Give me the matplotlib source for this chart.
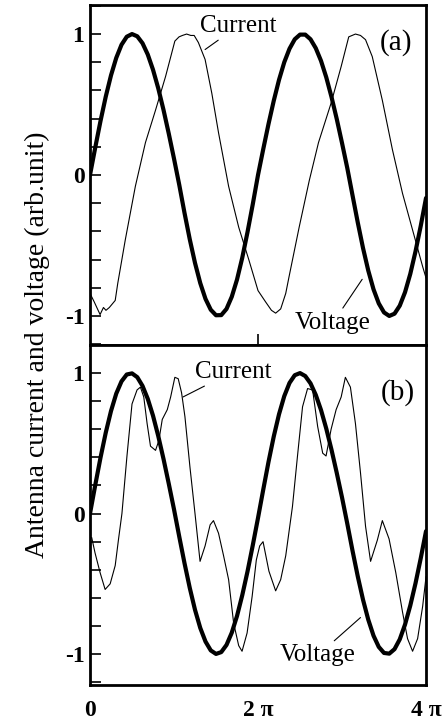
import numpy as np
import matplotlib.pyplot as plt
from matplotlib.ticker import FixedLocator, MultipleLocator

plt.rcParams['font.family'] = ['Liberation Serif', 'DejaVu Serif']
plt.rcParams['axes.unicode_minus'] = False

# phase values are in units of pi, read every pi/16
phase_v = [i / 16 for i in range(65)]

# (a) voltage
volt_a = [0.0, 0.195, 0.383, 0.556, 0.707, 0.831, 0.924, 0.981,
          1.0, 0.984, 0.935, 0.855, 0.747, 0.615, 0.462, 0.294,
          0.116, -0.07, -0.269, -0.456, -0.624, -0.767, -0.879, -0.956,
          -0.995, -0.994, -0.95, -0.864, -0.742, -0.587, -0.405, -0.208,
          0.0, 0.184, 0.362, 0.527, 0.675, 0.80, 0.896, 0.963,
          0.996, 0.996, 0.963, 0.90, 0.81, 0.693, 0.553, 0.397,
          0.227, 0.05, -0.144, -0.337, -0.518, -0.678, -0.811, -0.911,
          -0.975, -1.0, -0.984, -0.927, -0.832, -0.702, -0.542, -0.36,
          -0.163]

# (b) voltage
volt_b = [0.0, 0.203, 0.398, 0.576, 0.730, 0.854, 0.941, 0.990,
          0.998, 0.971, 0.909, 0.817, 0.697, 0.552, 0.389, 0.213,
          0.03, -0.164, -0.353, -0.529, -0.685, -0.814, -0.911, -0.974,
          -0.999, -0.986, -0.935, -0.848, -0.729, -0.581, -0.412, -0.226,
          -0.031, 0.171, 0.368, 0.549, 0.707, 0.836, 0.930, 0.985,
          1.0, 0.979, 0.927, 0.845, 0.737, 0.605, 0.454, 0.289,
          0.115, -0.071, -0.264, -0.447, -0.613, -0.755, -0.869, -0.949,
          -0.992, -0.997, -0.965, -0.895, -0.790, -0.655, -0.496, -0.317,
          -0.125]

# (a) current
phase_ia = [0.0, 0.05, 0.12, 0.16, 0.19, 0.23, 0.30, 0.33, 0.42, 0.54, 0.66, 0.78,
            0.90, 1.01, 1.06, 1.10, 1.15, 1.20, 1.24, 1.29, 1.37, 1.45, 1.53, 1.65,
            1.77, 1.89, 2.0, 2.09, 2.16, 2.21, 2.27, 2.33, 2.37, 2.49, 2.61, 2.72,
            2.87, 2.99, 3.08, 3.16, 3.22, 3.28, 3.36, 3.48, 3.60, 3.72, 3.84, 3.96, 4.0]
curr_a = [-0.84, -0.90, -0.99, -0.94, -0.96, -0.94, -0.89, -0.77, -0.46, -0.08, 0.23, 0.46,
          0.70, 0.95, 0.98, 0.99, 1.0, 0.99, 0.99, 0.94, 0.82, 0.58, 0.30, -0.08,
          -0.37, -0.60, -0.82, -0.90, -0.96, -0.98, -0.95, -0.84, -0.72, -0.37, -0.04, 0.23,
          0.51, 0.77, 0.98, 1.0, 0.99, 0.96, 0.84, 0.53, 0.18, -0.13, -0.39, -0.65, -0.73]

# (b) current
phase_ib = [0.0, 0.02, 0.06, 0.12, 0.18, 0.24, 0.30, 0.34, 0.38, 0.44, 0.50, 0.56,
            0.60, 0.64, 0.68, 0.72, 0.78, 0.82, 0.86, 0.92, 0.96, 1.01, 1.05, 1.09,
            1.13, 1.19, 1.25, 1.31, 1.37, 1.43, 1.47, 1.53, 1.59, 1.65, 1.71, 1.77,
            1.81, 1.87, 1.93, 1.98, 2.02, 2.06, 2.13, 2.21, 2.27, 2.33, 2.41, 2.47,
            2.53, 2.59, 2.65, 2.71, 2.77, 2.81, 2.87, 2.93, 2.99, 3.04, 3.10, 3.16,
            3.22, 3.28, 3.34, 3.42, 3.48, 3.56, 3.64, 3.72, 3.78, 3.84, 3.90, 3.96, 4.0]
curr_b = [-0.18, -0.17, -0.28, -0.42, -0.54, -0.50, -0.37, -0.18, 0.0, 0.41, 0.78, 0.88,
          0.90, 0.83, 0.64, 0.48, 0.45, 0.52, 0.67, 0.74, 0.83, 0.97, 0.96, 0.86,
          0.69, 0.33, 0.0, -0.34, -0.23, -0.08, -0.05, -0.14, -0.30, -0.47, -0.78, -0.94,
          -0.98, -0.85, -0.59, -0.33, -0.23, -0.20, -0.41, -0.55, -0.47, -0.30, 0.05, 0.41,
          0.76, 0.89, 0.88, 0.62, 0.43, 0.41, 0.60, 0.74, 0.83, 0.97, 0.90, 0.64,
          0.29, -0.09, -0.34, -0.19, -0.05, -0.18, -0.42, -0.70, -0.89, -0.98, -0.89, -0.66, -0.45]

xtick_pos = [0, 2, 4]
xtick_labels = ['0', '2 π', '4 π']
ytick_pos = [-1, 0, 1]
ytick_labels = ['-1', '0', '1']
ylabel = 'Antenna current and voltage (arb.unit)'


def style_axis(ax, ylim):
    ax.set_xlim(0, 4 * np.pi)
    ax.set_ylim(*ylim)
    ax.yaxis.set_major_locator(FixedLocator(ytick_pos))
    ax.set_yticklabels(ytick_labels, fontsize=17, fontweight='bold')
    ax.yaxis.set_minor_locator(MultipleLocator(0.2))
    ax.tick_params(axis='y', which='both', direction='in', length=8, width=1.2,
                   left=True, right=False, pad=4)
    for sp in ax.spines.values():
        sp.set_linewidth(2.0)


def draw_panel(ax, v, ph_i, cur, tag, cur_txt, cur_xy, volt_txt, volt_xy, tag_pos):
    ax.plot(np.array(phase_v) * np.pi, v, '-', color='k', lw=3.0,
            solid_joinstyle='round', solid_capstyle='round')
    ax.plot(np.array(ph_i) * np.pi, cur, '-', color='k', lw=0.8)
    arrow = dict(arrowstyle='-', lw=0.8, color='k', shrinkA=1, shrinkB=0)
    ax.annotate('Current', xy=(cur_xy[0] * np.pi, cur_xy[1]),
                xytext=(cur_txt[0] * np.pi, cur_txt[1]), fontsize=18,
                ha='center', va='center', arrowprops=arrow)
    ax.annotate('Voltage', xy=(volt_xy[0] * np.pi, volt_xy[1]),
                xytext=(volt_txt[0] * np.pi, volt_txt[1]), fontsize=18,
                ha='center', va='center', arrowprops=arrow)
    ax.text(tag_pos[0] * np.pi, tag_pos[1], tag, fontsize=21, ha='center', va='center')


fig = plt.figure(figsize=(4.46, 7.26), dpi=100)
ax1 = fig.add_axes([0.2018, 0.5248, 0.7534, 0.4683])
ax2 = fig.add_axes([0.2018, 0.0565, 0.7534, 0.4683])

draw_panel(ax1, volt_a, phase_ia, curr_a, '(a)',
           (1.77, 1.06), (1.37, 0.89), (2.89, -1.05), (3.24, -0.74), (3.64, 0.94))
draw_panel(ax2, volt_b, phase_ib, curr_b, '(b)',
           (1.70, 1.01), (1.107, 0.83), (2.71, -1.01), (3.22, -0.74), (3.67, 0.86))

style_axis(ax1, (-1.206, 1.206))
style_axis(ax2, (-1.22, 1.20))

ax1.set_xticks([2 * np.pi])
ax1.tick_params(axis='x', direction='in', length=8, width=1.2, labelbottom=False)
ax2.set_xticks(np.array(xtick_pos) * np.pi)
ax2.set_xticklabels(xtick_labels, fontsize=17, fontweight='bold')
ax2.tick_params(axis='x', length=0, pad=11)

fig.text(37 / 446, 1 - 345 / 726, ylabel, rotation=90, fontsize=20,
         ha='center', va='center')

fig.savefig('out.png', dpi=100)
